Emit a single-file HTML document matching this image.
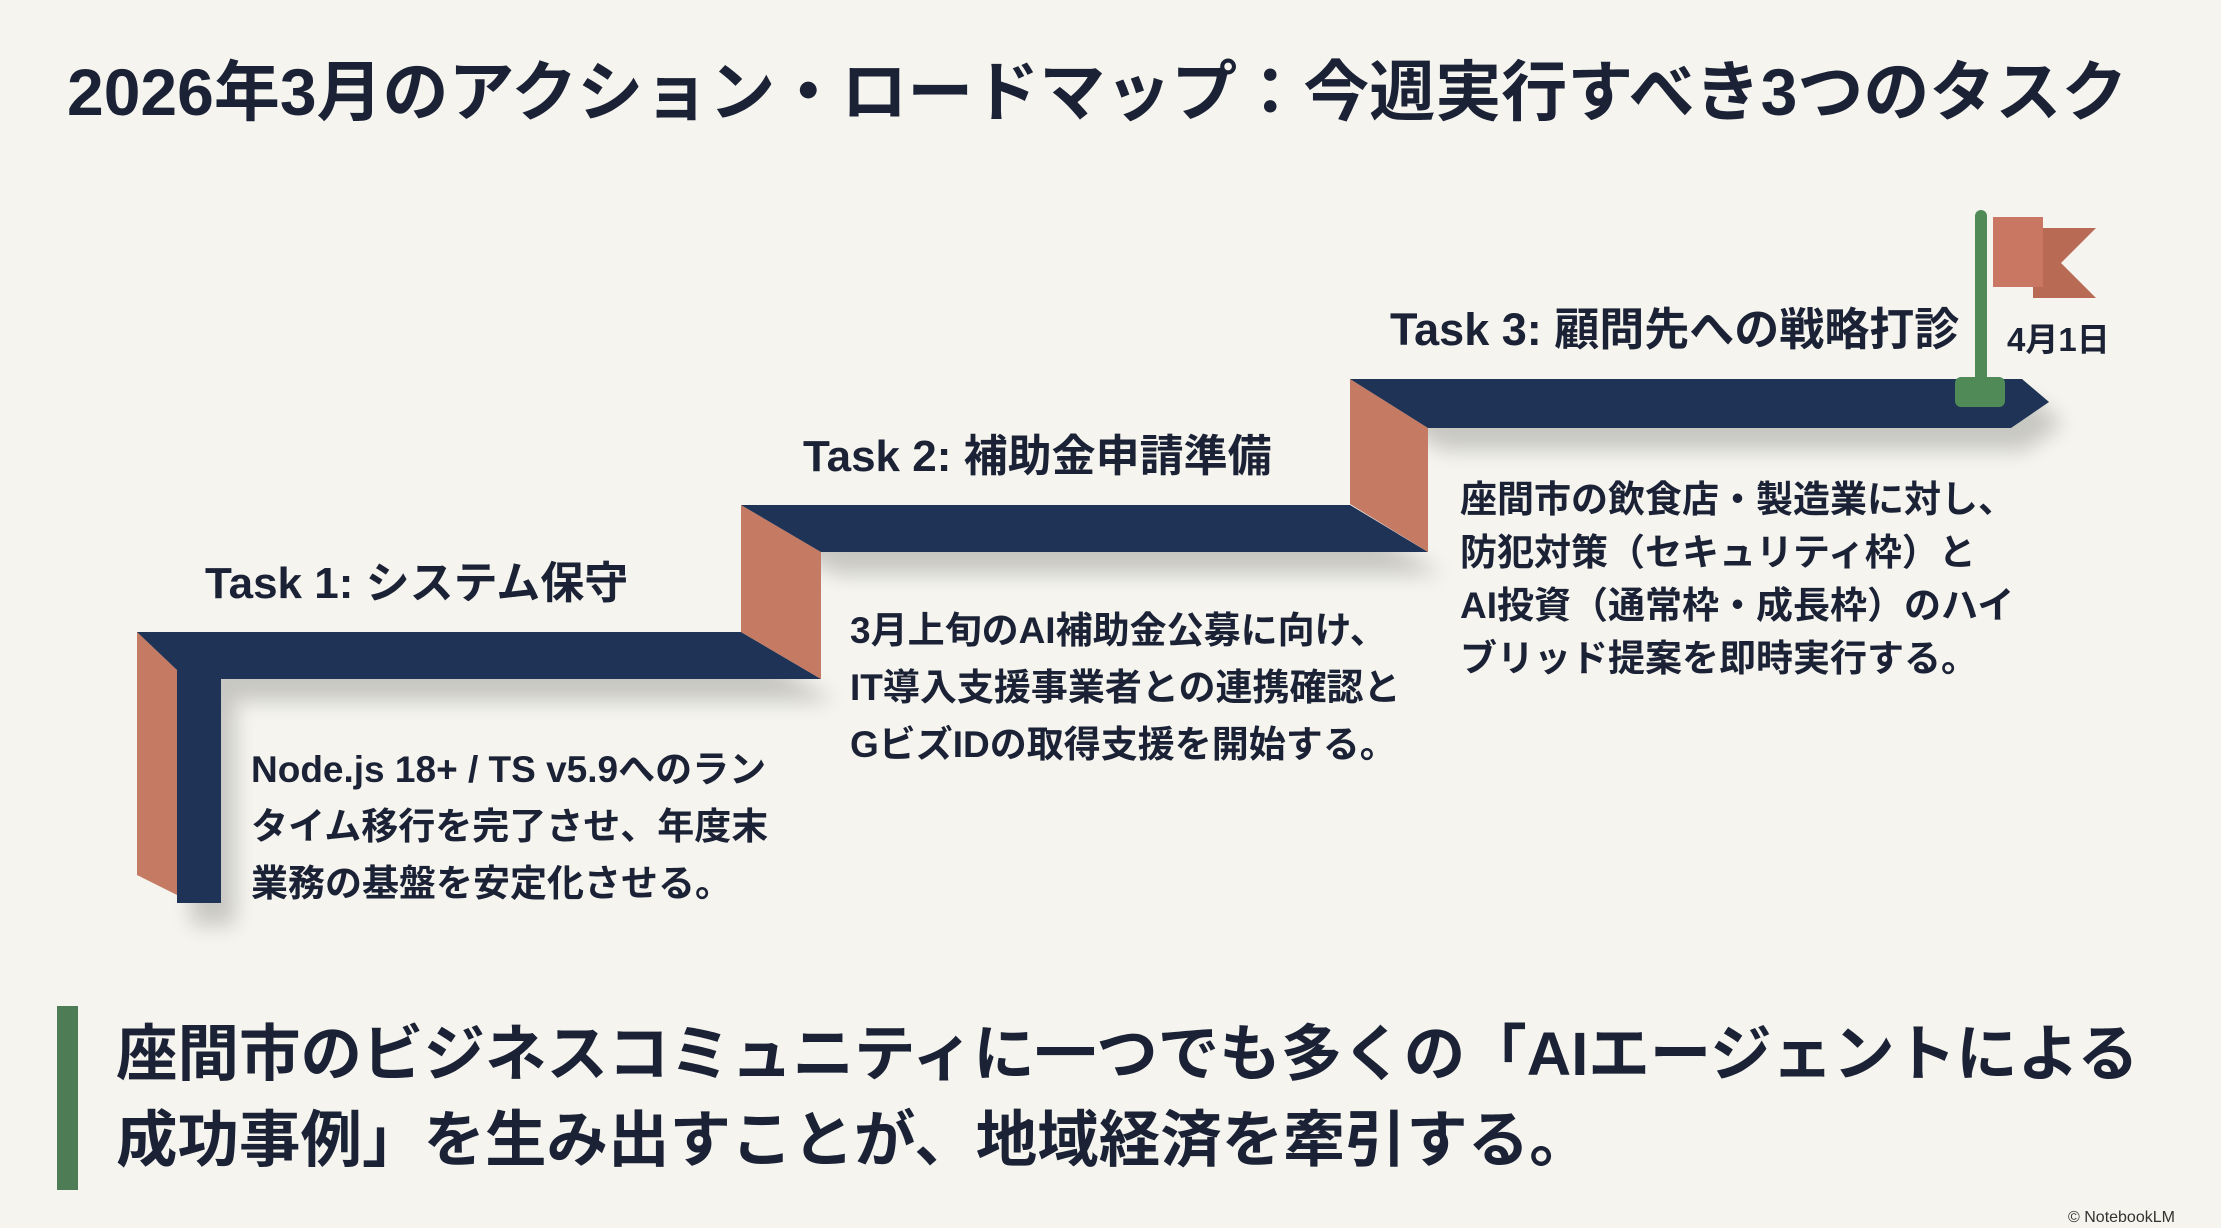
<!DOCTYPE html>
<html><head><meta charset="utf-8"><style>
html,body{margin:0;padding:0;}
body{width:2221px;height:1227px;background:#f5f4ee;position:relative;overflow:hidden;font-family:"Liberation Sans","Noto Sans CJK JP",sans-serif;color:#1b2236;}
.t{position:absolute;white-space:nowrap;font-weight:bold;}
</style></head><body>
<svg width="2221" height="1227" style="position:absolute;left:0;top:0">
<defs><filter id="sh" x="-10%" y="-10%" width="130%" height="150%"><feGaussianBlur stdDeviation="10"/></filter></defs>
<g fill="#000" opacity="0.18" filter="url(#sh)" transform="translate(14,22)">
<polygon points="137,632 741,632 821,679 221,679 221,903 177,903 177,670"/>
<polygon points="741,505 1350,505 1428,552 821,552"/>
<polygon points="1350,379 2022,379 2049,402 2011,428 1428,428"/>
</g>
<polygon fill="#c47a63" points="137,632 177,670 177,895 137,875"/>
<polygon fill="#1f3356" points="137,632 741,632 821,679 221,679 221,903 177,903 177,670"/>
<polygon fill="#c47a63" points="741,505 821,552 821,679 741,632"/>
<polygon fill="#1f3356" points="741,505 1350,505 1428,552 821,552"/>
<polygon fill="#c47a63" points="1350,379 1428,428 1428,552 1350,504"/>
<polygon fill="#1f3356" points="1350,379 2022,379 2049,402 2011,428 1428,428"/>
<rect x="1975" y="210" width="12" height="180" rx="6" fill="#4f8a57"/>
<rect x="1955" y="377" width="50" height="30" rx="6" fill="#4f8a57"/>
<polygon fill="#b86a55" points="2033,228 2096,228 2061,263 2096,298 2033,298"/>
<rect x="1993" y="217" width="50" height="70" fill="#c97762"/>
<rect x="57" y="1006" width="21" height="184" fill="#4e7d55"/>
</svg>
<div class="t" style="left:67px;top:50px;font-size:66px;line-height:84px;">2026年3月のアクション・ロードマップ：今週実行すべき3つのタスク</div>
<div class="t" style="left:205px;top:556px;font-size:44px;line-height:56px;">Task 1: システム保守</div>
<div class="t" style="left:803px;top:429px;font-size:44px;line-height:56px;">Task 2: 補助金申請準備</div>
<div class="t" style="left:1390px;top:302px;font-size:45px;line-height:56px;">Task 3: 顧問先への戦略打診</div>
<div class="t" style="left:2007px;top:318px;font-size:33px;line-height:44px;">4月1日</div>
<div class="t" style="left:251px;top:741px;font-size:37px;line-height:57px;">Node.js 18+ / TS v5.9へのラン<br>タイム移行を完了させ、年度末<br>業務の基盤を安定化させる。</div>
<div class="t" style="left:850px;top:602px;font-size:37px;line-height:57px;">3月上旬のAI補助金公募に向け、<br>IT導入支援事業者との連携確認と<br>GビズIDの取得支援を開始する。</div>
<div class="t" style="left:1460px;top:473px;font-size:37px;line-height:53px;">座間市の飲食店・製造業に対し、<br>防犯対策（セキュリティ枠）と<br>AI投資（通常枠・成長枠）のハイ<br>ブリッド提案を即時実行する。</div>
<div class="t" style="left:116px;top:1012px;font-size:61.5px;line-height:86px;">座間市のビジネスコミュニティに一つでも多くの「AIエージェントによる<br>成功事例」を生み出すことが、地域経済を牽引する。</div>
<div class="t" style="left:2068px;top:1208px;font-size:16px;line-height:20px;font-weight:normal;color:#333;">© NotebookLM</div>
</body></html>
